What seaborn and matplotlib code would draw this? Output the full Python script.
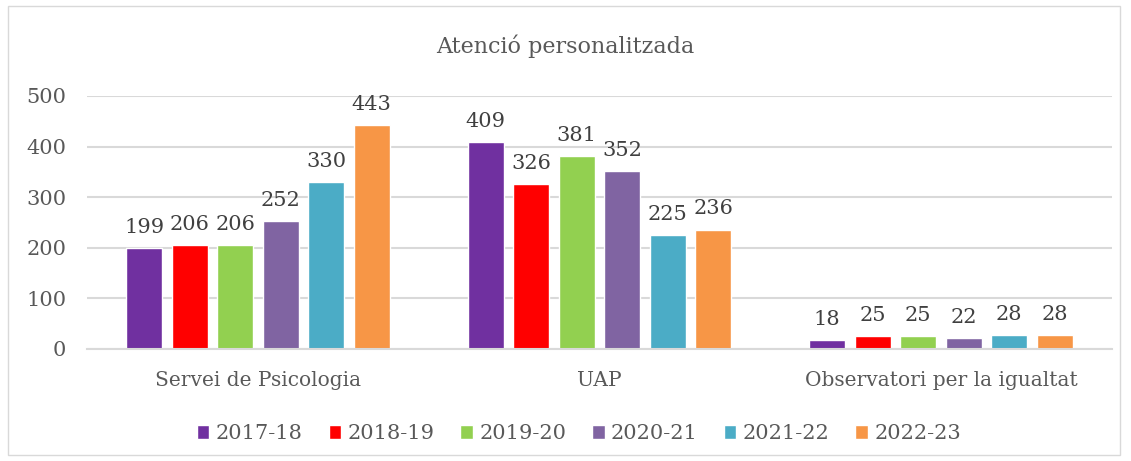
import numpy as np
import pandas as pd
import matplotlib
matplotlib.use("Agg")
import matplotlib.pyplot as plt
import seaborn as sns
from matplotlib.patches import Rectangle

# ── Data ─────────────────────────────────────────────────────────────────────
CATEGORIES = ["Servei de Psicologia", "UAP", "Observatori per la igualtat"]
YEARS = ["2017-18", "2018-19", "2019-20", "2020-21", "2021-22", "2022-23"]
VALUES = {
    "2017-18": [199, 409, 18],
    "2018-19": [206, 326, 25],
    "2019-20": [206, 381, 25],
    "2020-21": [252, 352, 22],
    "2021-22": [330, 225, 28],
    "2022-23": [443, 236, 28],
}
COLORS = ["#7030A0", "#FF0000", "#92D050", "#8064A2", "#4BACC6", "#F79646"]

rows = [(c, y, VALUES[y][i]) for y in YEARS for i, c in enumerate(CATEGORIES)]
df = pd.DataFrame(rows, columns=["cat", "year", "val"])

# ── Plot ─────────────────────────────────────────────────────────────────────
sns.set_style("white")
plt.rcParams["font.family"] = ["DejaVu Serif"]

fig = plt.figure(figsize=(11.31, 4.61), dpi=100)
ax = fig.add_axes([0.077, 0.243, 0.906, 0.549])

sns.barplot(data=df, x="cat", y="val", hue="year", order=CATEGORIES,
            hue_order=YEARS, palette=COLORS, width=0.8, gap=0.21,
            saturation=1, ax=ax, legend=True)

for cont in ax.containers:
    ax.bar_label(cont, fmt="%d", padding=8, fontsize=15, color="#404040")

ax.set_ylim(0, 500)
ax.set_xlim(-0.5, 2.5)
ax.set_yticks(range(0, 501, 100))
ax.yaxis.grid(True, color="#D9D9D9", linewidth=1.5)
ax.set_axisbelow(True)
for s in ("top", "right", "left"):
    ax.spines[s].set_visible(False)
ax.spines["bottom"].set_color("#D9D9D9")
ax.spines["bottom"].set_linewidth(1.5)
ax.tick_params(axis="y", length=0, labelsize=15, colors="#595959", pad=15)
ax.tick_params(axis="x", length=0, labelsize=14.5, colors="#595959", pad=16)
ax.set_xlabel("")
ax.set_ylabel("")

fig.text(0.5, 0.9, "Atenció personalitzada", ha="center", va="center",
         fontsize=16, color="#595959")

handles, labels = ax.get_legend_handles_labels()
ax.legend(handles, labels, loc="center", bbox_to_anchor=(0.48, -0.335),
          ncol=6, frameon=False, fontsize=15, handlelength=0.6,
          handleheight=0.6, handletextpad=0.3, columnspacing=1.25,
          labelcolor="#595959")

fig.patches.append(Rectangle((8 / 1131, 6 / 461), 1112 / 1131, 449 / 461,
                             transform=fig.transFigure, fill=False,
                             edgecolor="#D9D9D9", linewidth=1))

fig.savefig("out.png", dpi=100)
